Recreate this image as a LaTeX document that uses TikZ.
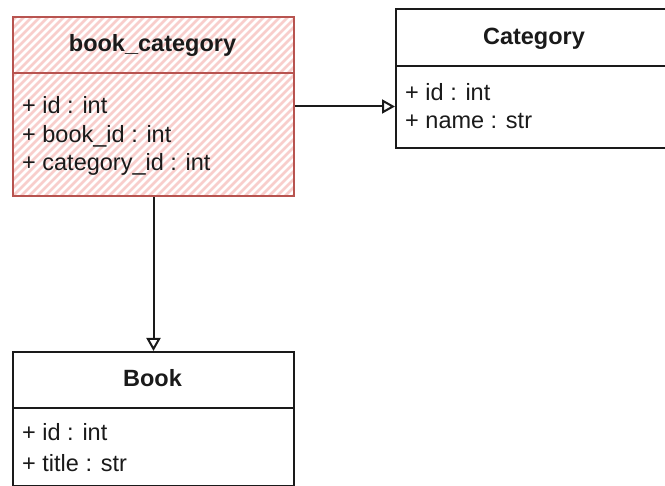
\documentclass[tikz,border=0pt]{standalone}
\usepackage{fontspec}
\setmainfont{Liberation Sans}
\usetikzlibrary{arrows.meta}
\definecolor{hatchred}{HTML}{F8CECC}
\definecolor{redline}{HTML}{B85450}
\definecolor{inkblack}{HTML}{1A1A1A}
\tikzset{
  umlbox/.style={draw=inkblack, line width=2pt, rectangle, inner sep=0pt, anchor=north west},
  hatched/.style={draw=redline, path picture={
      \foreach \k in {-200,-192,...,300}
        \draw[hatchred, line width=2.8pt]
          ([xshift=\k pt]path picture bounding box.south west) -- ++(220pt,220pt);
    }},
  titletext/.style={font=\fontsize{23.5}{28}\selectfont\bfseries, anchor=base, inner sep=0pt, text=inkblack},
  attrtext/.style={font=\fontsize{23.5}{28}\selectfont, anchor=base west, inner sep=0pt, text=inkblack},
  conn/.style={draw=inkblack, line width=2pt, -{Triangle[open, length=13pt, width=14pt, line width=2pt]}},
}
\begin{document}
\begin{tikzpicture}[x=1pt,y=-1pt]
\clip (0,0) rectangle (665,486);
\fill[white] (0,0) rectangle (665,486);
% book_category
\node[umlbox, hatched, minimum width=281pt, minimum height=179pt] (bc) at (12,16) {};
\draw[redline, line width=2pt] (bc.west |- 0,73) -- (bc.east |- 0,73);
\node[titletext] (bct) at (152.5,52) {book\_category};
\node[attrtext] (bc1) at (22,114) {+ id : int};
\node[attrtext] (bc2) at (22,142.5) {+ book\_id : int};
\node[attrtext] (bc3) at (22,171) {+ category\_id : int};
% Category
\node[umlbox, fill=white, minimum width=300pt, minimum height=139pt] (cat) at (395,8) {};
\draw[inkblack, line width=2pt] (cat.west |- 0,66) -- (cat.east |- 0,66);
\node[titletext] (catt) at (534,45) {Category};
\node[attrtext] (cat1) at (405,100.5) {+ id : int};
\node[attrtext] (cat2) at (405,129) {+ name : str};
% Book
\node[umlbox, fill=white, minimum width=281pt, minimum height=134pt] (book) at (12,351) {};
\draw[inkblack, line width=2pt] (book.west |- 0,408) -- (book.east |- 0,408);
\node[titletext] (bookt) at (152.5,387) {Book};
\node[attrtext] (book1) at (22,441) {+ id : int};
\node[attrtext] (book2) at (22,472) {+ title : str};
% connectors
\draw[conn] (bc.east) -- (bc.east -| cat.west);
\draw[conn] (bc.south) -- (book.north);
\end{tikzpicture}
\end{document}
